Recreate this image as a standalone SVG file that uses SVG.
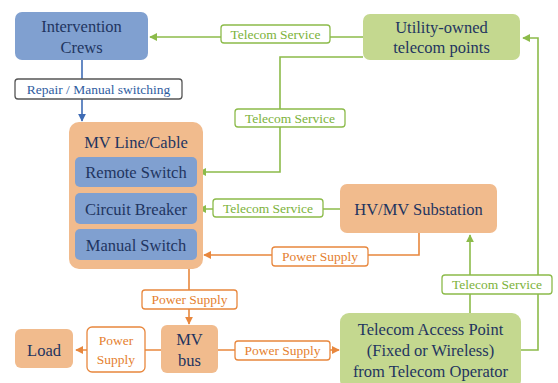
<svg xmlns="http://www.w3.org/2000/svg" width="558" height="383" viewBox="0 0 558 383" font-family="Liberation Serif, Times New Roman, serif">
  <style>
    .node-title { font-family: 'Liberation Serif', 'Times New Roman', serif; font-size: 16.5px; fill: #1f3560; text-anchor: middle; }
    .t-g, .t-o, .t-b { font-family: 'Liberation Serif', 'Times New Roman', serif; font-size: 13.5px; text-anchor: middle; }
    .t-g { fill: #7cb23a; }
    .t-o { fill: #e57f30; }
    .t-b { fill: #2f5d9f; }
    .blue { fill: #80a0d0; }
    .orange { fill: #f1bb8d; }
    .green { fill: #c4d88f; }
    .lbl { fill: #ffffff; stroke-width: 1.3; }
    .lbl-g { stroke: #8cbb4a; }
    .lbl-o { stroke: #e8873d; }
    .lbl-k { stroke: #555555; }
    .wire { fill: none; stroke-width: 1.6; }
    .w-g { stroke: #8cbb4a; }
    .w-o { stroke: #e8873d; }
    .w-b { stroke: #3f6cb5; }
  </style>
  <defs>
    <marker id="ah-g" viewBox="0 0 10 10" refX="9" refY="5" markerWidth="5" markerHeight="5" orient="auto">
      <path d="M0,0 L10,5 L0,10 z" fill="#8cbb4a"/>
    </marker>
    <marker id="ah-o" viewBox="0 0 10 10" refX="9" refY="5" markerWidth="5" markerHeight="5" orient="auto">
      <path d="M0,0 L10,5 L0,10 z" fill="#e8873d"/>
    </marker>
    <marker id="ah-b" viewBox="0 0 10 10" refX="9" refY="5" markerWidth="5" markerHeight="5" orient="auto">
      <path d="M0,0 L10,5 L0,10 z" fill="#3f6cb5"/>
    </marker>
  </defs>

  <!-- connectors -->
  <g id="connectors">
    <path class="wire w-g" d="M363,37 H150" marker-end="url(#ah-g)"/>
    <path class="wire w-g" d="M363,57 H280 V172 H199" marker-end="url(#ah-g)"/>
    <path class="wire w-g" d="M340,209 H199" marker-end="url(#ah-g)"/>
    <path class="wire w-o" d="M419,233 V255 H204" marker-end="url(#ah-o)"/>
    <path class="wire w-g" d="M470,313 V235" marker-end="url(#ah-g)"/>
    <path class="wire w-g" d="M521,350 H538 V38 H523" marker-end="url(#ah-g)"/>
    <path class="wire w-b" d="M82,60 V121" marker-end="url(#ah-b)"/>
    <path class="wire w-o" d="M189,268 V324" marker-end="url(#ah-o)"/>
    <path class="wire w-o" d="M161,350 H76" marker-end="url(#ah-o)"/>
    <path class="wire w-o" d="M218,350 H339" marker-end="url(#ah-o)"/>

    <!-- connector labels -->
    <rect class="lbl lbl-g" x="221" y="25" width="109" height="18" rx="3"/>
    <text class="t-g" x="275.5" y="38.5">Telecom Service</text>
    <rect class="lbl lbl-g" x="235" y="109" width="110" height="18" rx="3"/>
    <text class="t-g" x="290" y="122.5">Telecom Service</text>
    <rect class="lbl lbl-g" x="213" y="199" width="110" height="18" rx="3"/>
    <text class="t-g" x="268" y="212.5">Telecom Service</text>
    <rect class="lbl lbl-o" x="272" y="247" width="96" height="19" rx="3"/>
    <text class="t-o" x="320" y="261">Power Supply</text>
    <rect class="lbl lbl-g" x="442" y="275" width="110" height="19" rx="3"/>
    <text class="t-g" x="497" y="289">Telecom Service</text>
    <rect class="lbl lbl-k" x="15" y="79" width="167" height="20" rx="3"/>
    <text class="t-b" x="98.5" y="93.5">Repair / Manual switching</text>
    <rect class="lbl lbl-o" x="142" y="290" width="95" height="19" rx="3"/>
    <text class="t-o" x="189.5" y="304">Power Supply</text>
    <rect class="lbl lbl-o" x="87" y="327" width="58" height="45" rx="5"/>
    <text class="t-o" x="116" y="345">Power</text>
    <text class="t-o" x="116" y="364">Supply</text>
    <rect class="lbl lbl-o" x="235" y="341" width="95" height="19" rx="3"/>
    <text class="t-o" x="282.5" y="355">Power Supply</text>
  </g>

  <g id="intervention-crews">
    <rect class="blue" x="15" y="12" width="133" height="48" rx="7"/>
    <text class="node-title" x="81.5" y="32">Intervention</text>
    <text class="node-title" x="81.5" y="53">Crews</text>
  </g>

  <g id="utility-telecom">
    <rect class="green" x="363" y="14" width="157" height="46" rx="7"/>
    <text class="node-title" x="441.5" y="33">Utility-owned</text>
    <text class="node-title" x="441.5" y="53">telecom points</text>
  </g>

  <g id="mv-line">
    <rect class="orange" x="69" y="122" width="134" height="147" rx="10"/>
    <text class="node-title" x="136" y="148">MV Line/Cable</text>
    <g id="remote-switch">
      <rect class="blue" x="75" y="157" width="122" height="30" rx="5"/>
      <text class="node-title" x="136" y="178">Remote Switch</text>
    </g>
    <g id="circuit-breaker">
      <rect class="blue" x="75" y="193" width="122" height="31" rx="5"/>
      <text class="node-title" x="136" y="215">Circuit Breaker</text>
    </g>
    <g id="manual-switch">
      <rect class="blue" x="75" y="229" width="122" height="31" rx="5"/>
      <text class="node-title" x="136" y="251">Manual Switch</text>
    </g>
  </g>

  <g id="hv-mv-substation">
    <rect class="orange" x="340" y="184" width="157" height="49" rx="7"/>
    <text class="node-title" x="418.5" y="215">HV/MV Substation</text>
  </g>

  <g id="telecom-access-point">
    <rect class="green" x="340" y="313" width="181" height="76" rx="9"/>
    <text class="node-title" x="430.5" y="335">Telecom Access Point</text>
    <text class="node-title" x="430.5" y="356">(Fixed or Wireless)</text>
    <text class="node-title" x="430.5" y="377">from Telecom Operator</text>
  </g>

  <g id="mv-bus">
    <rect class="orange" x="161" y="325" width="57" height="48" rx="6"/>
    <text class="node-title" x="189.5" y="345">MV</text>
    <text class="node-title" x="189.5" y="366">bus</text>
  </g>

  <g id="load">
    <rect class="orange" x="15" y="329" width="58" height="39" rx="6"/>
    <text class="node-title" x="44" y="356">Load</text>
  </g>
</svg>
